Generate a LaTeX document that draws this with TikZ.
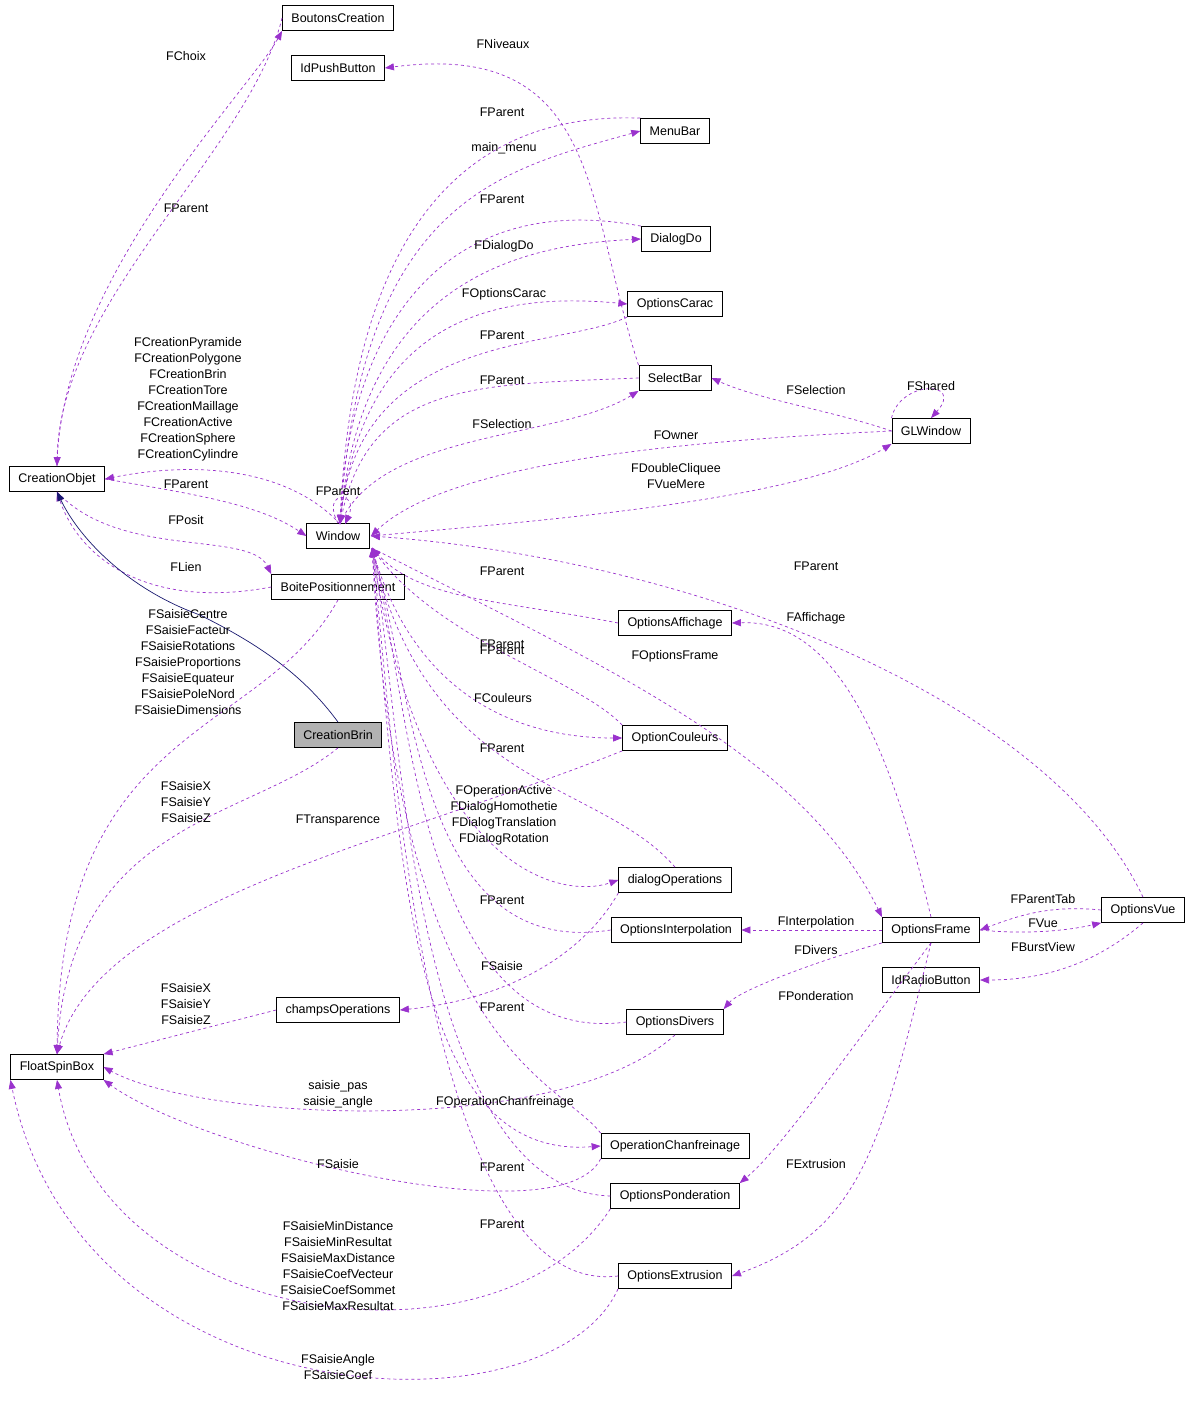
\documentclass[tikz,border=0pt]{standalone}
\usepackage{fontspec}
\setmainfont{Liberation Sans}
\usetikzlibrary{arrows.meta}
\definecolor{eorchid}{HTML}{9A32CD}
\definecolor{enavy}{HTML}{191970}
\tikzset{
 cls/.style={draw, thick, fill=white, minimum height=25pt, inner xsep=9pt, inner ysep=2pt, font=\fontsize{12.5}{14}\selectfont},
 lbl/.style={font=\fontsize{12.5}{16}\selectfont, align=center, inner sep=0pt},
 e/.style={draw=eorchid, dashed, line width=0.7pt, -{Triangle[length=9pt,width=7pt,fill=eorchid]}},
 inh/.style={draw=enavy, line width=0.7pt, -{Triangle[length=9pt,width=7pt,fill=enavy]}}
}
\begin{document}
\begin{tikzpicture}[x=1pt,y=-1pt]
\useasboundingbox[fill=white] (0,0) rectangle (1192,1423);
% nodes
\node[cls] (bc) at (338,18) {BoutonsCreation};
\node[cls] (ipb) at (338,68) {IdPushButton};
\node[cls] (mb) at (675,131) {MenuBar};
\node[cls] (dd) at (676,239) {DialogDo};
\node[cls] (oc) at (675,304) {OptionsCarac};
\node[cls] (sb) at (675,378) {SelectBar};
\node[cls] (glw) at (931,431) {GLWindow};
\node[cls] (co) at (57,479) {CreationObjet};
\node[cls] (win) at (338,536) {Window};
\node[cls] (bp) at (338,587) {BoitePositionnement};
\node[cls] (oa) at (675,623) {OptionsAffichage};
\node[cls, fill=black!30] (cb) at (338,735) {CreationBrin};
\node[cls] (ocl) at (675,738) {OptionCouleurs};
\node[cls] (dop) at (675,880) {dialogOperations};
\node[cls] (oi) at (676,930) {OptionsInterpolation};
\node[cls] (of) at (931,930) {OptionsFrame};
\node[cls] (ov) at (1143,910) {OptionsVue};
\node[cls] (irb) at (931,980) {IdRadioButton};
\node[cls] (cop) at (338,1010) {champsOperations};
\node[cls] (odv) at (675,1022) {OptionsDivers};
\node[cls] (fsb) at (57,1067) {FloatSpinBox};
\node[cls] (och) at (675,1146) {OperationChanfreinage};
\node[cls] (op) at (675,1196) {OptionsPonderation};
\node[cls] (oe) at (675,1276) {OptionsExtrusion};
% coordinates
\coordinate (wt) at (340,524);
\coordinate (wr) at (371,536);
\coordinate (wb) at (372,548);
% edges
\draw[e] (co.north) .. controls (60,280) and (250,90) .. (bc.south west);
\draw[e] (bc.west) .. controls (250,150) and (60,300) .. (co.north);
\draw[e] (sb.north west) .. controls (585,200) and (600,40) .. (ipb.east);
\draw[e] (mb.north west) .. controls (420,110) and (350,300) .. (wt);
\draw[e] (wt) .. controls (360,200) and (500,170) .. (mb.west);
\draw[e] (dd.north west) .. controls (450,190) and (350,320) .. (wt);
\draw[e] (wt) .. controls (360,280) and (520,245) .. (dd.west);
\draw[e] (wt) .. controls (360,330) and (480,290) .. (oc.west);
\draw[e] (oc.south west) .. controls (560,350) and (360,330) .. (wt);
\draw[e] (sb.west) .. controls (480,385) and (370,380) .. (wt);
\draw[e] (wt) .. controls (380,430) and (560,440) .. (sb.south west);
\draw[e] (glw.west) .. controls (830,410) and (760,400) .. (sb.east);
\draw[e] (glw.north west) .. controls (900,380) and (965,380) .. (glw.north);
\draw[e] (glw.west) .. controls (700,440) and (450,460) .. (wr);
\draw[e] (wr) .. controls (550,520) and (800,500) .. (glw.south west);
\draw[e] (wt) .. controls (290,470) and (200,460) .. (co.east);
\draw[e] (co.east) .. controls (200,495) and (260,505) .. (win.west);
\draw[e] (win.north) .. controls (320,490) and (360,490) .. (345,524);
\draw[e] (co.south) .. controls (120,560) and (250,530) .. (bp.north west);
\draw[e] (bp.west) .. controls (150,610) and (80,560) .. (co.south);
\draw[inh] (cb.north) .. controls (300,670) and (250,640) .. (200,615) .. controls (130,590) and (80,540) .. (co.south);
\draw[e] (bp.south) .. controls (260,740) and (60,720) .. (fsb.north);
\draw[e] (cb.south) .. controls (250,820) and (70,820) .. (fsb.north);
\draw[e] (oa.west) .. controls (500,600) and (420,600) .. (wb);
\draw[e] (of.north) .. controls (880,700) and (820,620) .. (oa.east);
\draw[e] (ov.north) .. controls (1050,700) and (700,560) .. (wr);
\draw[e] (wb) .. controls (590,660) and (800,750) .. (of.north west);
\draw[e] (ocl.north west) .. controls (580,680) and (440,640) .. (wb);
\draw[e] (wb) .. controls (420,720) and (550,738) .. (ocl.west);
\draw[e] (ocl.south west) .. controls (400,840) and (100,900) .. (fsb.north);
\draw[e] (dop.north) .. controls (600,780) and (430,790) .. (wb);
\draw[e] (wb) .. controls (420,870) and (560,900) .. (dop.west);
\draw[e] (dop.south west) .. controls (580,960) and (500,1000) .. (cop.east);
\draw[e] (oi.west) .. controls (420,960) and (415,700) .. (wb);
\draw[e] (of.west) -- (oi.east);
\draw[e] (odv.west) .. controls (420,1050) and (410,700) .. (wb);
\draw[e] (of.south west) .. controls (820,960) and (740,990) .. (odv.north east);
\draw[e] (odv.south) .. controls (560,1140) and (200,1120) .. (fsb.east);
\draw[e] (cop.west) -- (fsb.north east);
\draw[e] (wb) .. controls (400,900) and (420,1160) .. (och.west);
\draw[e] (och.north west) .. controls (560,1080) and (400,1050) .. (wb);
\draw[e] (och.south west) .. controls (560,1240) and (200,1150) .. (fsb.south east);
\draw[e] (op.west) .. controls (410,1190) and (400,700) .. (wb);
\draw[e] (of.south) .. controls (850,1050) and (780,1150) .. (op.north east);
\draw[e] (op.south west) .. controls (500,1380) and (100,1330) .. (fsb.south);
\draw[e] (oe.west) .. controls (420,1300) and (390,700) .. (wb);
\draw[e] (of.south) .. controls (880,1150) and (860,1230) .. (oe.east);
\draw[e] (oe.south west) .. controls (550,1440) and (80,1420) .. (fsb.south west);
\draw[e] (of.east) .. controls (1030,935) and (1070,930) .. (ov.south west);
\draw[e] (ov.west) .. controls (1050,905) and (1020,915) .. (of.east);
\draw[e] (ov.south) .. controls (1100,960) and (1050,980) .. (irb.east);
% labels
\node[lbl] (l1) at (186,56) {FChoix};
\node[lbl] (l2) at (186,208) {FParent};
\node[lbl] (l3) at (503,44) {FNiveaux};
\node[lbl] (l4) at (502,112) {FParent};
\node[lbl] (l5) at (504,148) {main\_menu};
\node[lbl] (l6) at (502,199) {FParent};
\node[lbl] (l7) at (504,246) {FDialogDo};
\node[lbl] (l8) at (504,294) {FOptionsCarac};
\node[lbl] (l9) at (502,335) {FParent};
\node[lbl] (l10) at (502,380) {FParent};
\node[lbl] (l11) at (502,424) {FSelection};
\node[lbl] (l12) at (816,390) {FSelection};
\node[lbl] (l13) at (931,386) {FShared};
\node[lbl] (l14) at (676,435) {FOwner};
\node[lbl] (l15) at (676,476) {FDoubleCliquee\\FVueMere};
\node[lbl] (l16) at (188,399) {FCreationPyramide\\FCreationPolygone\\FCreationBrin\\FCreationTore\\FCreationMaillage\\FCreationActive\\FCreationSphere\\FCreationCylindre};
\node[lbl] (l17) at (186,484) {FParent};
\node[lbl] (l18) at (338,491) {FParent};
\node[lbl] (l19) at (186,520) {FPosit};
\node[lbl] (l20) at (186,567) {FLien};
\node[lbl] (l21) at (188,662) {FSaisieCentre\\FSaisieFacteur\\FSaisieRotations\\FSaisieProportions\\FSaisieEquateur\\FSaisiePoleNord\\FSaisieDimensions};
\node[lbl] (l22) at (502,571) {FParent};
\node[lbl] (l23) at (816,566) {FParent};
\node[lbl] (l24) at (816,618) {FAffichage};
\node[lbl] (l25) at (675,656) {FOptionsFrame};
\node[lbl] (l26) at (502,644) {FParent};
\node[lbl] (l26b) at (502,650) {FParent};
\node[lbl] (l27) at (503,698) {FCouleurs};
\node[lbl] (l28) at (502,748) {FParent};
\node[lbl] (l29) at (186,802) {FSaisieX\\FSaisieY\\FSaisieZ};
\node[lbl] (l30) at (338,820) {FTransparence};
\node[lbl] (l31) at (504,815) {FOperationActive\\FDialogHomothetie\\FDialogTranslation\\FDialogRotation};
\node[lbl] (l32) at (502,900) {FParent};
\node[lbl] (l33) at (816,922) {FInterpolation};
\node[lbl] (l34) at (816,950) {FDivers};
\node[lbl] (l35) at (502,966) {FSaisie};
\node[lbl] (l36) at (186,1004) {FSaisieX\\FSaisieY\\FSaisieZ};
\node[lbl] (l37) at (502,1007) {FParent};
\node[lbl] (l38) at (816,996) {FPonderation};
\node[lbl] (l39) at (338,1094) {saisie\_pas\\saisie\_angle};
\node[lbl] (l40) at (505,1102) {FOperationChanfreinage};
\node[lbl] (l41) at (338,1164) {FSaisie};
\node[lbl] (l42) at (502,1167) {FParent};
\node[lbl] (l43) at (816,1164) {FExtrusion};
\node[lbl] (l44) at (502,1224) {FParent};
\node[lbl] (l45) at (338,1266) {FSaisieMinDistance\\FSaisieMinResultat\\FSaisieMaxDistance\\FSaisieCoefVecteur\\FSaisieCoefSommet\\FSaisieMaxResultat};
\node[lbl] (l46) at (338,1367) {FSaisieAngle\\FSaisieCoef};
\node[lbl] (l47) at (1043,899) {FParentTab};
\node[lbl] (l48) at (1043,923) {FVue};
\node[lbl] (l49) at (1043,947) {FBurstView};
\end{tikzpicture}
\end{document}
